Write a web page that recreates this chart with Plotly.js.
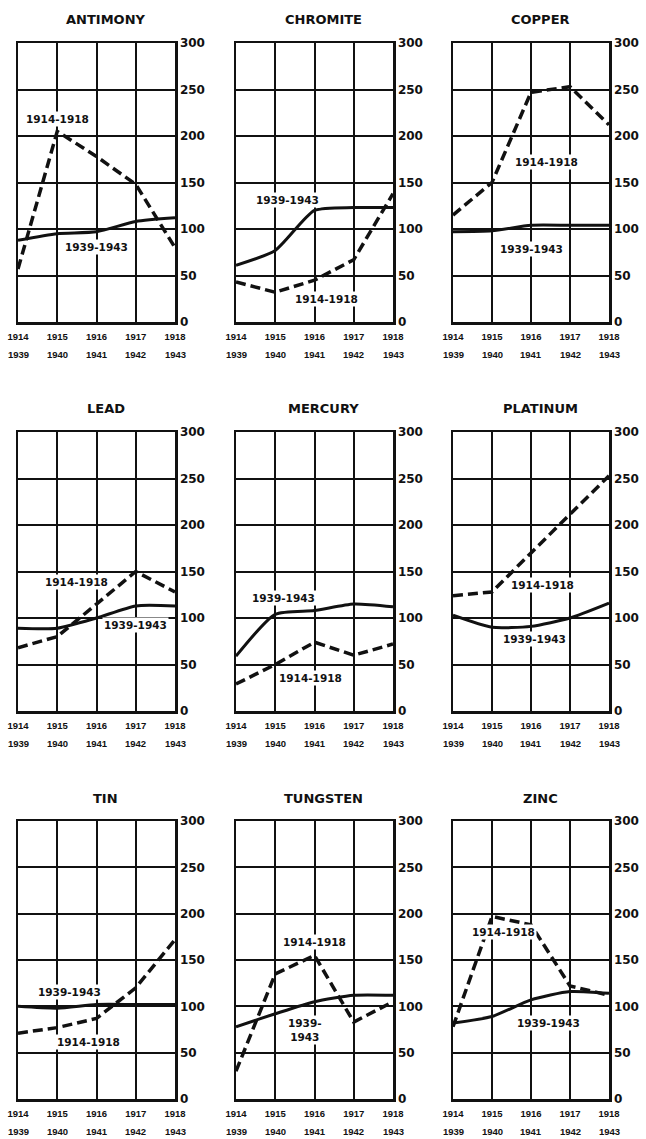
<!DOCTYPE html>
<html>
<head>
<meta charset="utf-8">
<script src="https://cdn.plot.ly/plotly-3.0.1.min.js"></script>
<style>
  html, body { margin: 0; padding: 0; background: #fff; }
  #chart { width: 646px; height: 1139px; }
</style>
</head>
<body>
<div id="chart"></div>
<script>
// ---- data ----
const years = [1914, 1915, 1916, 1917, 1918];
const yearsLater = [1939, 1940, 1941, 1942, 1943];
const yTicks = [0, 50, 100, 150, 200, 250, 300];
const minerals = ['ANTIMONY', 'CHROMITE', 'COPPER', 'LEAD', 'MERCURY', 'PLATINUM', 'TIN', 'TUNGSTEN', 'ZINC'];
const seriesNames = ['1914-1918', '1939-1943'];

// 1914-1918 index (dashed)
const ww1_antimony = [57, 205, 178, 148, 80];
const ww1_chromite = [43, 32, 45, 67, 138];
const ww1_copper   = [115, 150, 247, 253, 212];
const ww1_lead     = [68, 80, 115, 150, 128];
const ww1_mercury  = [29, 50, 74, 60, 72];
const ww1_platinum = [124, 128, 170, 212, 253];
const ww1_tin      = [71, 77, 87, 120, 172];
const ww1_tungsten = [30, 135, 155, 83, 105];
const ww1_zinc     = [78, 197, 188, 122, 112];

// 1939-1943 index (solid)
const ww2_antimony = [88, 95, 97, 108, 112];
const ww2_chromite = [61, 77, 120, 123, 123];
const ww2_copper   = [97, 98, 104, 104, 104];
const ww2_lead     = [89, 89, 100, 113, 113];
const ww2_mercury  = [59, 104, 108, 115, 112];
const ww2_platinum = [103, 90, 91, 100, 116];
const ww2_tin      = [100, 98, 102, 102, 102];
const ww2_tungsten = [78, 92, 105, 112, 112];
const ww2_zinc     = [82, 89, 107, 116, 114];

const ww1 = [ww1_antimony, ww1_chromite, ww1_copper, ww1_lead, ww1_mercury, ww1_platinum, ww1_tin, ww1_tungsten, ww1_zinc];
const ww2 = [ww2_antimony, ww2_chromite, ww2_copper, ww2_lead, ww2_mercury, ww2_platinum, ww2_tin, ww2_tungsten, ww2_zinc];

// in-plot series label placement (data coords): [x, y] for 1914-1918 and 1939-1943
const labelPos1 = [[1915.0, 218], [1916.3, 25], [1916.4, 172], [1915.5, 139], [1915.9, 36], [1916.3, 135], [1915.8, 61], [1916.0, 169], [1915.3, 180]];
const labelPos2 = [[1916.0, 81], [1915.3, 131], [1916.0, 78], [1917.0, 93], [1915.2, 121], [1916.1, 77], [1915.3, 115], [1915.75, 74], [1916.45, 82]];

// ---- layout geometry ----
const colDomains = [[18/646, 175/646], [236/646, 393/646], [453/646, 609/646]];
const rowDomains = [[1 - 322/1139, 1 - 43/1139], [1 - 711/1139, 1 - 432/1139], [1 - 1099/1139, 1 - 821/1139]];

const titleFont = { family: 'DejaVu Sans', size: 13, color: '#111', weight: 'bold' };
const yTickFont = { family: 'DejaVu Sans', size: 12, color: '#111', weight: 'bold' };
const xTickFont = { family: 'Liberation Sans', size: 9.5, color: '#111', weight: 'bold' };
const labelFont = { family: 'DejaVu Sans', size: 10.5, color: '#111', weight: 'bold' };

const traces = [];
const layout = {
  width: 646, height: 1139,
  margin: { l: 0, r: 0, t: 0, b: 0 },
  paper_bgcolor: '#fff', plot_bgcolor: '#fff',
  showlegend: false,
  annotations: []
};

minerals.forEach((name, i) => {
  const s = i === 0 ? '' : String(i + 1);
  const xa = 'x' + s, ya = 'y' + s;
  const col = i % 3, row = Math.floor(i / 3);

  traces.push({
    x: years, y: ww1[i], xaxis: xa, yaxis: ya, name: seriesNames[0],
    type: 'scatter', mode: 'lines',
    line: { color: '#111', width: 3.5, dash: '10px,5px', shape: 'linear' },
    hoverinfo: 'skip'
  });
  traces.push({
    x: years, y: ww2[i], xaxis: xa, yaxis: ya, name: seriesNames[1],
    type: 'scatter', mode: 'lines',
    line: { color: '#111', width: 3, shape: 'spline', smoothing: 0.6 },
    hoverinfo: 'skip'
  });

  layout['xaxis' + s] = {
    domain: colDomains[col], anchor: ya,
    range: [1914, 1918], fixedrange: true,
    tickmode: 'array', tickvals: years, ticktext: years.map(String),
    tickfont: xTickFont, ticks: '', ticklabelstandoff: 4,
    showgrid: true, gridcolor: '#111', gridwidth: 2,
    showline: true, mirror: true, linecolor: '#111', linewidth: 2.5,
    zeroline: false
  };
  layout['yaxis' + s] = {
    domain: rowDomains[row], anchor: xa, side: 'right',
    range: [0, 300], fixedrange: true,
    tickmode: 'array', tickvals: yTicks, ticktext: yTicks.map(String),
    tickfont: yTickFont, ticks: '',
    showgrid: true, gridcolor: '#111', gridwidth: 2,
    showline: true, mirror: true, linecolor: '#111', linewidth: 2.5,
    zeroline: false
  };

  // panel title
  layout.annotations.push({
    text: name, xref: xa + ' domain', yref: ya + ' domain',
    x: 0.56, y: 1, yshift: 23, showarrow: false,
    xanchor: 'center', yanchor: 'middle', font: titleFont
  });

  // second row of x labels (1939-1943)
  years.forEach((yr, j) => {
    layout.annotations.push({
      text: String(yearsLater[j]), xref: xa, yref: ya + ' domain',
      x: yr, y: 0, yshift: -32, showarrow: false,
      xanchor: 'center', yanchor: 'middle', font: xTickFont
    });
  });

  // series labels
  layout.annotations.push({
    text: seriesNames[0], xref: xa, yref: ya,
    x: labelPos1[i][0], y: labelPos1[i][1], showarrow: false,
    xanchor: 'center', yanchor: 'middle', font: labelFont,
    bgcolor: '#fff', borderpad: 1
  });
  layout.annotations.push({
    text: i === 7 ? '1939-<br>1943' : seriesNames[1], xref: xa, yref: ya,
    x: labelPos2[i][0], y: labelPos2[i][1], showarrow: false,
    xanchor: 'center', yanchor: 'middle', font: labelFont,
    bgcolor: '#fff', borderpad: 1
  });
});

Plotly.newPlot('chart', traces, layout, { staticPlot: true, displayModeBar: false });
</script>
</body>
</html>
